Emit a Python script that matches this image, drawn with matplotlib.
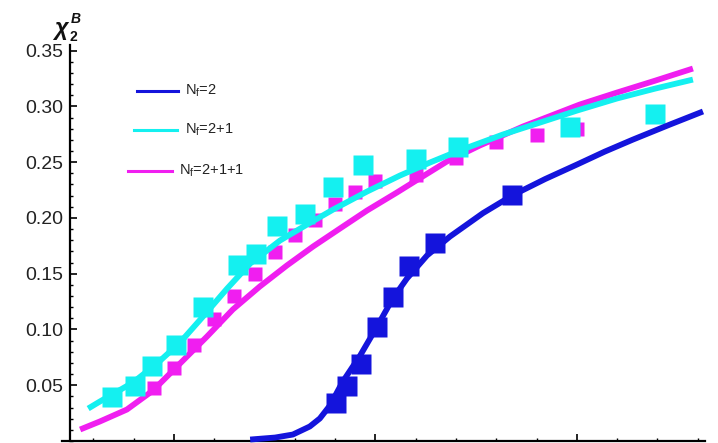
import matplotlib
matplotlib.use("Agg")
import matplotlib.pyplot as plt
from matplotlib.lines import Line2D
from matplotlib.ticker import MultipleLocator

plt.rcParams['font.family'] = 'Liberation Sans'
plt.rcParams['mathtext.fontset'] = 'custom'
plt.rcParams['mathtext.rm'] = 'Liberation Sans'
plt.rcParams['mathtext.it'] = 'Liberation Sans:italic'
plt.rcParams['mathtext.bf'] = 'Liberation Sans:bold'

# lattice points (squares)
T_nf2 = [140.2, 142.9, 146.4, 150.4, 154.3, 158.3, 164.8, 183.9]
chi_nf2 = [0.0345, 0.0497, 0.0686, 0.1026, 0.1295, 0.1573, 0.1779, 0.2209]

T_nf21 = [84.6, 90.3, 94.5, 100.5, 107.2, 115.9, 120.3, 125.6, 132.5, 139.5,
          146.9, 160.0, 170.5, 198.3, 219.4]
chi_nf21 = [0.039, 0.0497, 0.0668, 0.0865, 0.1205, 0.1582, 0.1672, 0.1923,
            0.2039, 0.2281, 0.2470, 0.2532, 0.2640, 0.2819, 0.2927]

T_nf211 = [95, 100, 105, 110, 115, 120, 125, 130, 135, 140, 145, 150,
           160, 170, 180, 190, 200]
chi_nf211 = [0.0479, 0.065, 0.0865, 0.1098, 0.1304, 0.150, 0.169, 0.185,
             0.1985, 0.2129, 0.2236, 0.2335, 0.2389, 0.2541, 0.2684, 0.2747, 0.2801]

# model curves
Tc_nf2 = [118.9, 125.1, 129.5, 133.7, 136.2, 138.7, 141.9, 146.2, 150.4, 154.3,
          157.8, 162.8, 168.5, 176.7, 184.1, 192.1, 200.0, 206.9, 213.9, 223.1, 231.3]
cc_nf2 = [0.0013, 0.0031, 0.0058, 0.013, 0.0202, 0.0318, 0.0533, 0.0766, 0.1026,
          0.1277, 0.1456, 0.1663, 0.1833, 0.2043, 0.2204, 0.2348, 0.2478, 0.2594,
          0.2702, 0.2837, 0.2954]

Tc_nf21 = [78.7, 81.6, 89.8, 95.8, 101.5, 107.2, 113.2, 118.9, 126.3, 133.0,
           139.5, 147.9, 156.1, 163.5, 170.2, 181.6, 190.1, 200.0, 209.9, 219.4, 228.8]
cc_nf21 = [0.0291, 0.0354, 0.0524, 0.0695, 0.0883, 0.1116, 0.1367, 0.1591, 0.1797,
           0.1940, 0.2075, 0.2236, 0.2380, 0.2496, 0.2595, 0.2747, 0.2846, 0.2962,
           0.3070, 0.3159, 0.3240]

Tc_nf211 = [76.7, 81.6, 88.3, 94.8, 101.5, 108.2, 114.6, 121.3, 128.0, 134.5,
            141.2, 147.9, 155.3, 159.3, 167.7, 175.9, 186.6, 200.7, 209.9, 219.4, 228.8]
cc_nf211 = [0.0103, 0.0175, 0.0282, 0.0453, 0.0695, 0.0937, 0.1179, 0.1385, 0.1573,
            0.1743, 0.1905, 0.2066, 0.2227, 0.2317, 0.2505, 0.2649, 0.2819, 0.3016,
            0.3123, 0.3230, 0.3339]

blue = '#1414dc'
cyan = '#14f0f0'
magenta = '#f01ef0'

fig = plt.figure(figsize=(7.18, 4.43), dpi=100)
ax = fig.add_axes([62/718, 2/443, 643/718, 396/443])

lw = 4.2
ax.plot(T_nf211, chi_nf211, 's', color=magenta, ms=10, mec='none', zorder=2)
ax.plot(Tc_nf211, cc_nf211, '-', color=magenta, lw=lw, solid_capstyle='butt',
        solid_joinstyle='round', zorder=3, clip_on=False)
ax.plot(Tc_nf21, cc_nf21, '-', color=cyan, lw=lw, solid_capstyle='butt',
        solid_joinstyle='round', zorder=4, clip_on=False)
ax.plot(T_nf21, chi_nf21, 's', color=cyan, ms=14, mec='none', zorder=5)
ax.plot(Tc_nf2, cc_nf2, '-', color=blue, lw=lw, solid_capstyle='butt',
        solid_joinstyle='round', zorder=6, clip_on=False)
ax.plot(T_nf2, chi_nf2, 's', color=blue, ms=14, mec='none', zorder=7)

ax.set_xlim(72.2, 231.8)
ax.set_ylim(0, 0.355)

for s in ['top', 'right']:
    ax.spines[s].set_visible(False)
ax.spines['left'].set_position(('data', 74.2))
ax.spines['left'].set_linewidth(1.6)
ax.spines['bottom'].set_linewidth(1.6)

ax.xaxis.set_major_locator(MultipleLocator(50))
ax.xaxis.set_minor_locator(MultipleLocator(10))
ax.set_yticks([0.05, 0.10, 0.15, 0.20, 0.25, 0.30, 0.35])
ax.yaxis.set_minor_locator(MultipleLocator(0.01))
ax.yaxis.set_major_formatter(plt.FormatStrFormatter('%.2f'))
ax.tick_params(axis='both', which='both', direction='in', color='black')
ax.tick_params(axis='both', which='major', length=5, width=1.2)
ax.tick_params(axis='both', which='minor', length=2.5, width=1)
ax.tick_params(axis='x', labelbottom=False)
ax.tick_params(axis='y', labelsize=14, pad=5, labelcolor='#222222')

# axis label
fig.text(54/718, 1 - 35/443, 'χ', fontsize=17, fontweight='bold', style='italic',
         color='#111111', va='baseline')
fig.text(69/718, 1 - 41/443, '2', fontsize=10, fontweight='bold', color='#111111',
         va='baseline')
fig.text(71/718, 1 - 23/443, 'B', fontsize=10, fontweight='bold', style='italic',
         color='#111111', va='baseline')

# legend drawn by hand
legend = [
    (blue, 137, 178, 91, 185, r'N$_{\mathrm{f}}$=2'),
    (cyan, 134, 177, 130, 185, r'N$_{\mathrm{f}}$=2+1'),
    (magenta, 128, 172, 171, 179, r'N$_{\mathrm{f}}$=2+1+1'),
]
for col, x0, x1, yp, xt, lab in legend:
    fig.add_artist(Line2D([x0/718, x1/718], [1 - yp/443, 1 - yp/443],
                          color=col, lw=2.2, transform=fig.transFigure))
    fig.text(xt/718, 1 - yp/443, lab, fontsize=10.5, va='center', ha='left', color='#222222')

fig.savefig('out.png', dpi=100)
